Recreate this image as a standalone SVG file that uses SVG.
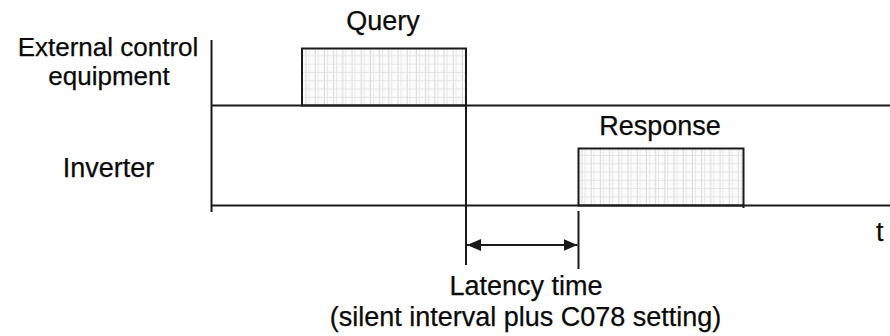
<svg xmlns="http://www.w3.org/2000/svg" width="890" height="336" viewBox="0 0 890 336">
  <style>
    .t { font-family: "Liberation Sans", Arial, Helvetica, sans-serif; font-size: 27px; fill: #0a0a0a; stroke: #0a0a0a; stroke-width: 0.25; }
    .s { font-size: 26px; }
    .line { stroke: #1a1a1a; stroke-width: 2; fill: none; }
    .box { stroke: #1a1a1a; stroke-width: 2; fill: url(#grid); }
  </style>
  <defs>
    <pattern id="grid" patternUnits="userSpaceOnUse" x="302" y="48" width="9.2" height="8.3">
      <rect width="9.2" height="8.3" fill="#fcfcfc"/>
      <line x1="4" y1="0" x2="4" y2="8.3" stroke="#d8d8d8" stroke-width="1"/>
      <line x1="7" y1="0" x2="7" y2="8.3" stroke="#e8e8e8" stroke-width="1"/>
      <line x1="0" y1="7.8" x2="9.2" y2="7.8" stroke="#e4e4e4" stroke-width="1"/>
    </pattern>
    <marker id="ah" viewBox="0 0 14 12" refX="14" refY="6" markerWidth="14" markerHeight="12" markerUnits="userSpaceOnUse" orient="auto-start-reverse">
      <path d="M0,0 L14,6 L0,12 Z" fill="#1a1a1a"/>
    </marker>
  </defs>

  <g id="label-external">
    <text class="t s" x="108" y="55.5" text-anchor="middle">External control</text>
    <text class="t s" x="109" y="84.5" text-anchor="middle">equipment</text>
  </g>
  <g id="label-inverter">
    <text class="t" x="108.5" y="177" text-anchor="middle">Inverter</text>
  </g>

  <g id="query">
    <rect class="box" x="302" y="48.5" width="164" height="57"/>
    <text class="t" x="383" y="29.5" text-anchor="middle">Query</text>
  </g>
  <g id="response">
    <rect class="box" x="578.5" y="148.5" width="165" height="57"/>
    <text class="t" x="660" y="135" text-anchor="middle">Response</text>
  </g>

  <g id="time-label">
    <text class="t" x="876" y="241">t</text>
  </g>

  <g id="latency-label">
    <text class="t" x="526" y="295" text-anchor="middle">Latency time</text>
    <text class="t" x="525.5" y="325.5" text-anchor="middle">(silent interval plus C078 setting)</text>
  </g>

  <g id="connectors">
    <line class="line" x1="211.5" y1="40" x2="211.5" y2="212"/>
    <line class="line" x1="211.5" y1="105.5" x2="890" y2="105.5"/>
    <line class="line" x1="211.5" y1="205.5" x2="890" y2="205.5"/>
    <line class="line" x1="466" y1="48.5" x2="466" y2="265"/>
    <line class="line" x1="578.5" y1="211" x2="578.5" y2="269"/>
    <line class="line" x1="743.5" y1="205" x2="743.5" y2="208"/>
    <line class="line" x1="467" y1="245" x2="577.5" y2="245" marker-start="url(#ah)" marker-end="url(#ah)"/>
  </g>
</svg>
